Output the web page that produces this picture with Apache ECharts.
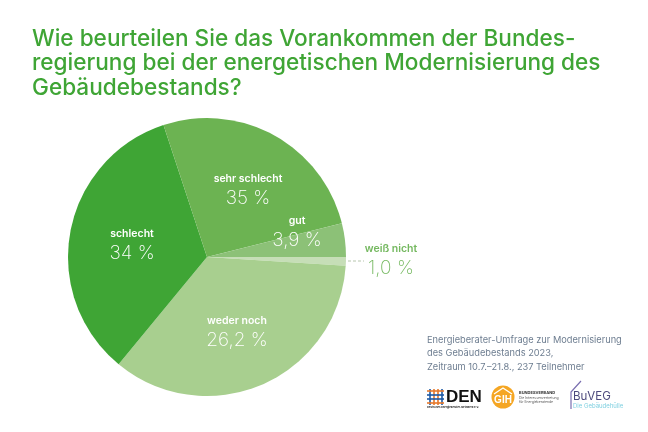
<!DOCTYPE html>
<html>
<head>
<meta charset="utf-8">
<style>html,body{margin:0;padding:0;background:#fff}#chart{width:648px;height:432px}</style>
<script src="https://cdn.jsdelivr.net/npm/echarts@6/dist/echarts.min.js"></script>
</head>
<body>
<div id="chart"></div>
<script>
var categories = ['weiß nicht', 'weder noch', 'schlecht', 'sehr schlecht', 'gut'];
// printed percentages
var shownValues = ['1,0 %', '26,2 %', '34 %', '35 %', '3,9 %'];
// wedge sizes as drawn: in the reference the 35 and 26,2 wedges are swapped against their labels
var sliceValues = [1.0, 35, 34, 26.2, 3.9];
var sliceColors = ['#c6deb7', '#a8cf8f', '#3fa535', '#6cb352', '#8cc177'];
var labelX = [391, 237, 132, 248, 297];
var labelY = [260, 332, 245, 190, 232];
var titleLines = ['Wie beurteilen Sie das Vorankommen der Bundes-', 'regierung bei der energetischen Modernisierung des', 'Gebäudebestands?'];
var noteLines = ['Energieberater-Umfrage zur Modernisierung', 'des Gebäudebestands 2023,', 'Zeitraum 10.7.–21.8., 237 Teilnehmer'];

var font = 'Inter';
var chart = echarts.init(document.getElementById('chart'));

var graphics = [];
titleLines.forEach(function (t, i) {
    graphics.push({type: 'text', x: 32, y: 39 + i * 24.7, style: {text: t, font: '500 22.6px ' + font, fill: '#3fa535', textVerticalAlign: 'middle'}});
});
noteLines.forEach(function (t, i) {
    graphics.push({type: 'text', x: 427, y: 340 + i * 13.5, style: {text: t, font: '400 9.25px ' + font, fill: '#6d7d90', textVerticalAlign: 'middle'}});
});
// leader for weiß nicht
graphics.push({type: 'line', shape: {x1: 333, y1: 261, x2: 364, y2: 261}, style: {stroke: '#a5b89a', lineWidth: 0.8, lineDash: [3, 2]}});

// DEN logo
[430, 434, 438, 442].forEach(function (x, i) {
    graphics.push({type: 'line', shape: {x1: x, y1: 389, x2: x, y2: 405}, style: {stroke: i % 3 ? '#e8792b' : '#1d5aa6', lineWidth: 1.6}});
});
[391, 395, 399, 403].forEach(function (y, i) {
    graphics.push({type: 'line', shape: {x1: 427, y1: y, x2: 444, y2: y}, style: {stroke: i % 3 ? '#1d5aa6' : '#e8792b', lineWidth: 1.6}});
});
graphics.push({type: 'text', x: 446, y: 397, style: {text: 'DEN', font: '700 17px "Liberation Sans Narrow", "Liberation Sans"', fill: '#111', textVerticalAlign: 'middle'}});
graphics.push({type: 'text', x: 427, y: 407, style: {text: 'Deutsches Energieberater-Netzwerk e.V.', font: '700 2.6px ' + font, fill: '#222', textVerticalAlign: 'middle'}});

// GIH logo
graphics.push({type: 'circle', shape: {cx: 503, cy: 397, r: 11.5}, style: {fill: '#f5a623'}});
graphics.push({type: 'polyline', shape: {points: [[494, 394], [503, 388], [512, 394]]}, style: {stroke: '#fff', lineWidth: 1.3, fill: 'none'}});
graphics.push({type: 'text', x: 503, y: 400, style: {text: 'GIH', font: '700 10px "Liberation Sans"', fill: '#fff', textAlign: 'center', textVerticalAlign: 'middle'}});
graphics.push({type: 'text', x: 519, y: 393, style: {text: 'BUNDESVERBAND', font: '700 4px ' + font, fill: '#333', textVerticalAlign: 'middle'}});
graphics.push({type: 'text', x: 519, y: 398, style: {text: 'Die Interessenvertretung', font: '400 3.4px ' + font, fill: '#555', textVerticalAlign: 'middle'}});
graphics.push({type: 'text', x: 519, y: 402, style: {text: 'für Energieberatende', font: '400 3.4px ' + font, fill: '#555', textVerticalAlign: 'middle'}});

// BuVEG logo
graphics.push({type: 'polyline', shape: {points: [[571, 409], [571, 392], [581, 381]]}, style: {stroke: '#7a6fb0', lineWidth: 1.2, fill: 'none'}});
graphics.push({type: 'text', x: 573, y: 397, style: {text: 'BuVEG', font: '400 11.5px ' + font, fill: '#4d4a7d', textVerticalAlign: 'middle'}});
graphics.push({type: 'text', x: 573, y: 406, style: {text: 'Die Gebäudehülle', font: '400 6px ' + font, fill: '#7fd0e0', textVerticalAlign: 'middle'}});

var option = {
    animation: false,
    backgroundColor: '#fff',
    graphic: graphics,
    series: [{
        type: 'pie',
        center: [207, 257],
        radius: [0, 139],
        startAngle: 0,
        clockwise: true,
        avoidLabelOverlap: false,
        silent: true,
        data: categories.map(function (name, i) {
            var outer = i === 0;
            return {
                name: name,
                value: sliceValues[i],
                itemStyle: {color: sliceColors[i]},
                label: {
                    formatter: '{n|' + name + '}\n{v|' + shownValues[i] + '}',
                    rich: {
                        n: {fontFamily: font, fontWeight: 600, fontSize: 10.5, lineHeight: 17, color: outer ? '#74b85f' : '#fff', align: 'center'},
                        v: {fontFamily: font, fontWeight: 200, fontSize: 19, lineHeight: 23, color: outer ? '#74b85f' : '#fff', align: 'center'}
                    }
                }
            };
        }),
        label: {show: true, position: 'inside'},
        labelLine: {show: false},
        labelLayout: function (params) {
            return {x: labelX[params.dataIndex], y: labelY[params.dataIndex], align: 'center', verticalAlign: 'middle'};
        }
    }]
};
chart.setOption(option);
</script>
</body>
</html>
